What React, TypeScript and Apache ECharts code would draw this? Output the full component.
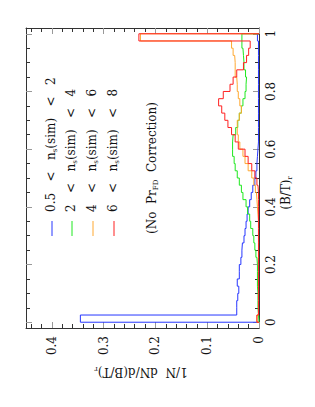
import React, { useEffect, useRef } from 'react';
import * as echarts from 'echarts';

const BIN_WIDTH = 0.025;

const blueHist = [0.345, 0.043, 0.043, 0.041, 0.039, 0.042, 0.038, 0.038, 0.035, 0.033,
  0.032, 0.029, 0.027, 0.025, 0.023, 0.021, 0.018, 0.015, 0.012, 0.008,
  0.006, 0.004, 0.003, 0.002, 0.001, 0.001, 0.001, 0.001, 0.001, 0.001,
  0.001, 0.001, 0.001, 0.001, 0.001, 0.001, 0.001, 0.001, 0.001, 0.003];
const greenHist = [0.001, 0.002, 0.002, 0.002, 0.003, 0.003, 0.003, 0.003, 0.004, 0.006,
  0.008, 0.010, 0.012, 0.016, 0.018, 0.022, 0.025, 0.031, 0.034, 0.038,
  0.042, 0.046, 0.048, 0.051, 0.051, 0.050, 0.045, 0.041, 0.038, 0.034,
  0.031, 0.027, 0.025, 0.024, 0.026, 0.029, 0.030, 0.031, 0.033, 0.033];
const orangeHist = [0.004, 0.001, 0.001, 0.001, 0.001, 0.001, 0.001, 0.001, 0.001, 0.001,
  0.001, 0.001, 0.001, 0.001, 0.002, 0.003, 0.004, 0.005, 0.007, 0.010,
  0.014, 0.021, 0.027, 0.031, 0.037, 0.040, 0.042, 0.042, 0.038, 0.034,
  0.037, 0.040, 0.042, 0.043, 0.046, 0.046, 0.047, 0.050, 0.053, 0.229];
const redHist = [0.004, 0.001, 0.001, 0.001, 0.001, 0.001, 0.001, 0.001, 0.001, 0.001,
  0.001, 0.001, 0.001, 0.001, 0.001, 0.001, 0.001, 0.001, 0.002, 0.004,
  0.008, 0.014, 0.021, 0.027, 0.040, 0.046, 0.053, 0.060, 0.066, 0.072,
  0.078, 0.069, 0.056, 0.050, 0.043, 0.030, 0.024, 0.020, 0.017, 0.232];

const seriesLow = ['0.5', '2', '4', '6'];
const seriesHigh = ['2', '4', '6', '8'];
const seriesColors = ['#2636ff', '#1ee81e', '#ffa830', '#ff2020'];
const seriesHists = [blueHist, greenHist, orangeHist, redHist];

const valueMajorTicks = [0, 0.1, 0.2, 0.3, 0.4];
const valueMinorTicks = [0.02, 0.04, 0.06, 0.08, 0.12, 0.14, 0.16, 0.18, 0.22, 0.24, 0.26, 0.28,
  0.32, 0.34, 0.36, 0.38, 0.42, 0.44];
const btMajorTicks = [0, 0.2, 0.4, 0.6, 0.8, 1];
const btMinorTicks = [0.05, 0.1, 0.15, 0.25, 0.3, 0.35, 0.45, 0.5, 0.55, 0.65, 0.7, 0.75,
  0.85, 0.9, 0.95];

const FONT = 'DejaVu Serif';
const FRAME = '#333';
const INK = '#111';

function outline(vals: number[]) {
  const pts: number[][] = [[0, 0]];
  vals.forEach((v, i) => {
    pts.push([v, i * BIN_WIDTH]);
    pts.push([v, (i + 1) * BIN_WIDTH]);
  });
  pts.push([0, vals.length * BIN_WIDTH]);
  return pts;
}

function valueAxis(position: string, ticks: number[], len: number, color: string, showLine: boolean, labels: boolean) {
  return {
    type: 'value', position, min: 0, max: 0.45, inverse: true,
    axisLine: { show: showLine, onZero: false, lineStyle: { color: FRAME, width: 1 } },
    axisTick: { show: true, inside: true, length: len, customValues: ticks, lineStyle: { color, width: 1 } },
    axisLabel: labels
      ? { show: true, customValues: ticks, rotate: 90, margin: 8, fontFamily: FONT, fontSize: 12, color: INK }
      : { show: false },
    splitLine: { show: false },
  };
}

function btAxis(position: string, ticks: number[], len: number, color: string, showLine: boolean, labels: boolean) {
  return {
    type: 'value', position, min: -0.02, max: 1.02,
    axisLine: { show: showLine, onZero: false, lineStyle: { color: FRAME, width: 1 } },
    axisTick: { show: true, inside: true, length: len, customValues: ticks, lineStyle: { color, width: 1 } },
    axisLabel: labels
      ? { show: true, customValues: ticks, rotate: 90, margin: 6, fontFamily: FONT, fontSize: 12, color: INK }
      : { show: false },
    splitLine: { show: false },
  };
}

const richStyles = {
  m: { fontFamily: FONT, fontSize: 12, lineHeight: 14, fill: INK },
  s: { fontFamily: FONT, fontSize: 7, lineHeight: 6, verticalAlign: 'bottom', fill: INK },
};

export default function App() {
  const ref = useRef<HTMLDivElement>(null);
  useEffect(() => {
    if (!ref.current) return;
    const chart = echarts.init(ref.current, undefined, { renderer: 'svg' });

    const g: any[] = [];
    const legendX = [52, 72, 93, 114];
    seriesLow.forEach((lo, i) => {
      g.push({
        type: 'line', shape: { x1: legendX[i], y1: 221, x2: legendX[i], y2: 236 },
        style: { stroke: seriesColors[i], lineWidth: 1 },
      });
      g.push({
        type: 'text', x: legendX[i] - 1, y: 212, rotation: Math.PI / 2,
        style: {
          text: `{m|${lo}   <   n}{s|s}{m|(sim)   <   ${seriesHigh[i]}}`,
          align: 'left', verticalAlign: 'middle', rich: richStyles,
        },
      });
    });
    g.push({
      type: 'text', x: 152, y: 234, rotation: Math.PI / 2,
      style: { text: '{m|(No  Pr}{s|FD}{m|  Correction)}', align: 'left', verticalAlign: 'middle', rich: richStyles },
    });
    g.push({
      type: 'text', x: 141, y: 372, rotation: Math.PI,
      style: { text: '{m|1/N  dN/d(B/T)}{s|r}', align: 'center', verticalAlign: 'middle', rich: richStyles },
    });
    g.push({
      type: 'text', x: 286, y: 193, rotation: Math.PI / 2,
      style: { text: '{m|(B/T)}{s|r}', align: 'center', verticalAlign: 'middle', rich: richStyles },
    });

    chart.setOption({
      animation: false,
      backgroundColor: '#fff',
      grid: { left: 26, right: 56, top: 28, bottom: 79, outerBoundsMode: 'none', containLabel: false },
      xAxis: [
        valueAxis('bottom', valueMajorTicks, 6, '#999', true, true),
        valueAxis('bottom', valueMinorTicks, 4, '#333', false, false),
        valueAxis('top', valueMajorTicks, 6, '#999', true, false),
        valueAxis('top', valueMinorTicks, 4, '#333', false, false),
      ],
      yAxis: [
        btAxis('right', btMajorTicks, 6, '#999', true, true),
        btAxis('right', btMinorTicks, 4, '#333', false, false),
        btAxis('left', btMajorTicks, 6, '#999', true, false),
        btAxis('left', btMinorTicks, 4, '#333', false, false),
      ],
      series: seriesHists.map((h, i) => ({
        type: 'line',
        name: `${seriesLow[i]} < ns(sim) < ${seriesHigh[i]}`,
        xAxisIndex: 0, yAxisIndex: 0,
        data: outline(h),
        showSymbol: false, symbol: 'none',
        lineStyle: { color: seriesColors[i], width: 1 },
        itemStyle: { color: seriesColors[i] },
        z: 2 + i,
      })),
      graphic: g,
    });
    return () => chart.dispose();
  }, []);
  return <div ref={ref} style={{ position: 'absolute', left: 0, top: 0, width: 315, height: 407 }} />;
}
